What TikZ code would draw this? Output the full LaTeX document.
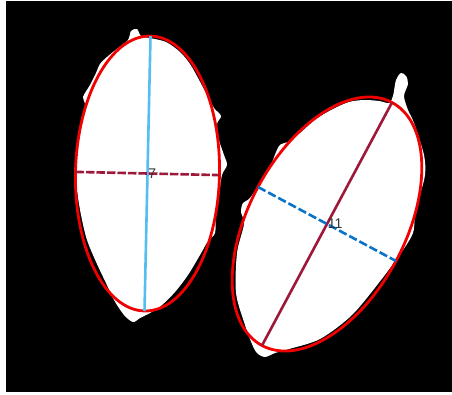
\documentclass[tikz,border=0pt]{standalone}
\usepackage{fontspec}
\setmainfont{Liberation Sans}
\definecolor{fitred}{RGB}{240,0,0}
\definecolor{skyline}{RGB}{84,190,240}
\definecolor{wine}{RGB}{158,24,58}
\definecolor{deepblue}{RGB}{10,115,200}

\begin{document}
\begin{tikzpicture}[x=1pt, y=-1pt]
        \tikzset{blob/.style={
            fill=white,
            draw=none
        }}
        \tikzset{outline/.style={
            draw=fitred,
            line width=2.8pt
        }}
        \tikzset{axisline/.style={
            draw=#1,
            line width=2.6pt
        }}
        \tikzset{count/.style={
            anchor=west,
            inner sep=0.6pt,
            text=black!80,
            font=\fontsize{14}{14}\selectfont
        }}
        \useasboundingbox (0,0) rectangle (452,394);
        \fill[white] (0,0) rectangle (452,394);
        \fill[black] (6,1) rectangle (452,392);
        % left object
        \begin{scope}
            \coordinate (c1) at (147.5,173.5);
            \coordinate (m1a) at (150.5,36);
            \coordinate (m1b) at (144.5,311);
            \coordinate (n1a) at (75.5,171.9);
            \coordinate (n1b) at (219.5,175.1);
            \fill[blob] plot[smooth cycle, tension=0.5] coordinates {
                (150,38) (166,42) (180,52) (190,64) (198,78) (207,95) (214,108)
                (221,116) (217,124) (219,140) (224,155) (227,165) (222,175)
                (219,195) (216,215) (215,233) (208,241) (200,255) (188,275)
                (175,292) (162,305) (150,313) (140,318) (133,322) (124,315)
                (114,300) (106,283) (97,264) (87,240) (81,215) (77,190)
                (76,170) (78,145) (81,125) (85,105) (83,97) (90,85) (96,73)
                (100,64) (107,57) (118,48) (128,40) (131,31) (137,29) (141,36)};
            \draw[outline, rotate around={88.75:(c1)}] (c1) ellipse [x radius=137.5, y radius=72];
            \draw[axisline=skyline] (m1a) -- (m1b);
            \draw[axisline=wine, dash pattern=on 8.5pt off 2pt] (n1a) -- (n1b);
            \node[count] (lab7) at (c1) {7};
        \end{scope}
        % right object
        \begin{scope}
            \coordinate (c2) at (327,224);
            \coordinate (m2a) at (392,102.5);
            \coordinate (m2b) at (262,345.5);
            \coordinate (n2a) at (258,187);
            \coordinate (n2b) at (396,261);
            \fill[blob] plot[smooth cycle, tension=0.5] coordinates {
                (396,80) (401,73) (406,76) (408,84) (404,96) (408,110)
                (414,123) (424,155) (425,175) (420,195) (415,217) (413,233)
                (403,250) (381,280) (352,315) (320,339) (289,349) (275,353)
                (265,357) (257,353) (252,344) (245,325) (236,293) (237,253)
                (244,224) (241,212) (243,203) (250,198) (262,180) (270,167)
                (279,146) (288,142) (300,133) (316,119) (333,109) (349,102)
                (364,100) (379,101) (389,103) (393,96)};
            \draw[outline, rotate around={61.86:(c2)}] (c2) ellipse [x radius=137.8, y radius=78.3];
            \draw[axisline=wine] (m2a) -- (m2b);
            \draw[axisline=deepblue, dash pattern=on 8.5pt off 3pt] (n2a) -- (n2b);
            \node[count] (lab11) at (c2) {11};
        \end{scope}
\end{tikzpicture}
\end{document}
